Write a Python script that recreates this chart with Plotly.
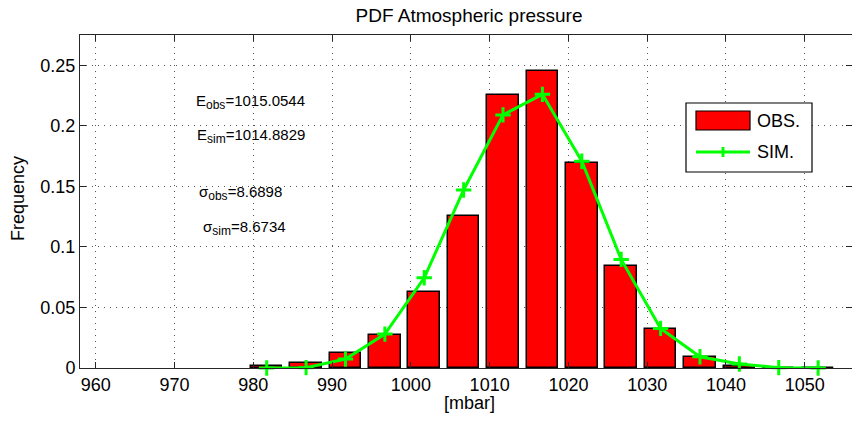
import plotly.graph_objects as go

# ---- data ----
bin_centers = [981.7, 986.7, 991.7, 996.7, 1001.7, 1006.7, 1011.7, 1016.7,
               1021.7, 1026.7, 1031.7, 1036.7, 1041.7, 1046.7, 1051.7]
obs_freq = [0.0015, 0.004, 0.012, 0.0276, 0.063, 0.1257, 0.2252, 0.245,
            0.169, 0.0844, 0.032, 0.0093, 0.002, 0.0004, 0.0003]
sim_freq = [0.0, 0.0003, 0.0074, 0.028, 0.0745, 0.147, 0.209, 0.226,
            0.1708, 0.0897, 0.0327, 0.0093, 0.0033, 0.0003, 0.0]
x_ticks = [960, 970, 980, 990, 1000, 1010, 1020, 1030, 1040, 1050]
y_ticks = [0, 0.05, 0.1, 0.15, 0.2, 0.25]
y_tick_text = ["0", "0.05", "0.1", "0.15", "0.2", "0.25"]
stat_symbols = ["E", "E", "σ", "σ"]
stat_subs = ["obs", "sim", "obs", "sim"]
stat_values = ["1015.0544", "1014.8829", "8.6898", "8.6734"]

FONT = "Liberation Sans, Arial, Helvetica, sans-serif"
W, H = 852, 421
L, R, T, B = 80, 0, 35, 53
PW, PH = W - L - R, H - T - B

def px(x):
    return (x - L) / PW

def py(y):
    return (H - B - y) / PH

fig = go.Figure()
fig.add_trace(go.Bar(
    x=bin_centers, y=obs_freq, width=4.0, name="OBS.",
    marker=dict(color="#ff0000", line=dict(color="black", width=1.5)),
    showlegend=False,
))
fig.add_trace(go.Scatter(
    x=bin_centers, y=sim_freq, mode="lines+markers", name="SIM.",
    line=dict(color="#00ff00", width=3),
    marker=dict(symbol="cross-thin", size=11, color="#00ff00",
                line=dict(color="#00ff00", width=3)),
    cliponaxis=False, showlegend=False,
))

axis_common = dict(
    showline=True, linecolor="#262626", linewidth=1, mirror="allticks",
    ticks="inside", ticklen=6, tickcolor="#262626", tickwidth=1,
    showgrid=True, gridcolor="#555555", gridwidth=1, griddash="1px,5px",
    zeroline=False, tickfont=dict(family=FONT, size=18, color="black"),
)
fig.update_xaxes(range=[958, 1056], tickvals=x_ticks, **axis_common)
fig.update_yaxes(range=[0, 0.275], tickvals=y_ticks, ticktext=y_tick_text,
                 **axis_common)

annotations = []
# stats texts
stat_pos = [(194, 102), (195, 136), (197, 193), (201, 228)]
for sym, sub, val, (ax_, ay_) in zip(stat_symbols, stat_subs, stat_values, stat_pos):
    txt = f"{sym}<sub><span style='font-size:12px'>{sub}</span></sub>={val}"
    annotations.append(dict(text=txt, x=px(ax_), y=py(ay_), xref="paper", yref="paper",
                            xanchor="left", yanchor="middle", showarrow=False,
                            font=dict(family=FONT, size=15, color="black")))
# axis titles
annotations.append(dict(text="[mbar]", x=px(469), y=py(403), xref="paper", yref="paper",
                        xanchor="center", yanchor="middle", showarrow=False,
                        font=dict(family=FONT, size=18, color="black")))
annotations.append(dict(text="Frequency", x=px(18), y=py(199), xref="paper", yref="paper",
                        xanchor="center", yanchor="middle", showarrow=False, textangle=-90,
                        font=dict(family=FONT, size=18, color="black")))
# legend texts
annotations.append(dict(text="OBS.", x=px(755), y=py(121), xref="paper", yref="paper",
                        xanchor="left", yanchor="middle", showarrow=False,
                        font=dict(family=FONT, size=18, color="black")))
annotations.append(dict(text="SIM.", x=px(755), y=py(152), xref="paper", yref="paper",
                        xanchor="left", yanchor="middle", showarrow=False,
                        font=dict(family=FONT, size=18, color="black")))

shapes = [
    dict(type="rect", xref="paper", yref="paper", x0=px(686), x1=px(812),
         y0=py(172), y1=py(103), line=dict(color="black", width=1.2), fillcolor="white"),
    dict(type="rect", xref="paper", yref="paper", x0=px(696), x1=px(750),
         y0=py(130), y1=py(111), line=dict(color="black", width=1.2), fillcolor="#ff0000"),
    dict(type="line", xref="paper", yref="paper", x0=px(696), x1=px(750),
         y0=py(152), y1=py(152), line=dict(color="#00ff00", width=3)),
    dict(type="line", xref="paper", yref="paper", x0=px(723), x1=px(723),
         y0=py(147), y1=py(157), line=dict(color="#00ff00", width=3)),
]

fig.update_layout(
    width=W, height=H,
    margin=dict(l=L, r=R, t=T, b=B, pad=0),
    paper_bgcolor="white", plot_bgcolor="white",
    title=dict(text="PDF Atmospheric pressure", x=px(469), xanchor="center",
               y=(H - 15) / H, yanchor="middle", yref="container", xref="paper",
               font=dict(family=FONT, size=19, color="black")),
    annotations=annotations, shapes=shapes, bargap=0,
    showlegend=False,
)

fig.write_html("out.html")
